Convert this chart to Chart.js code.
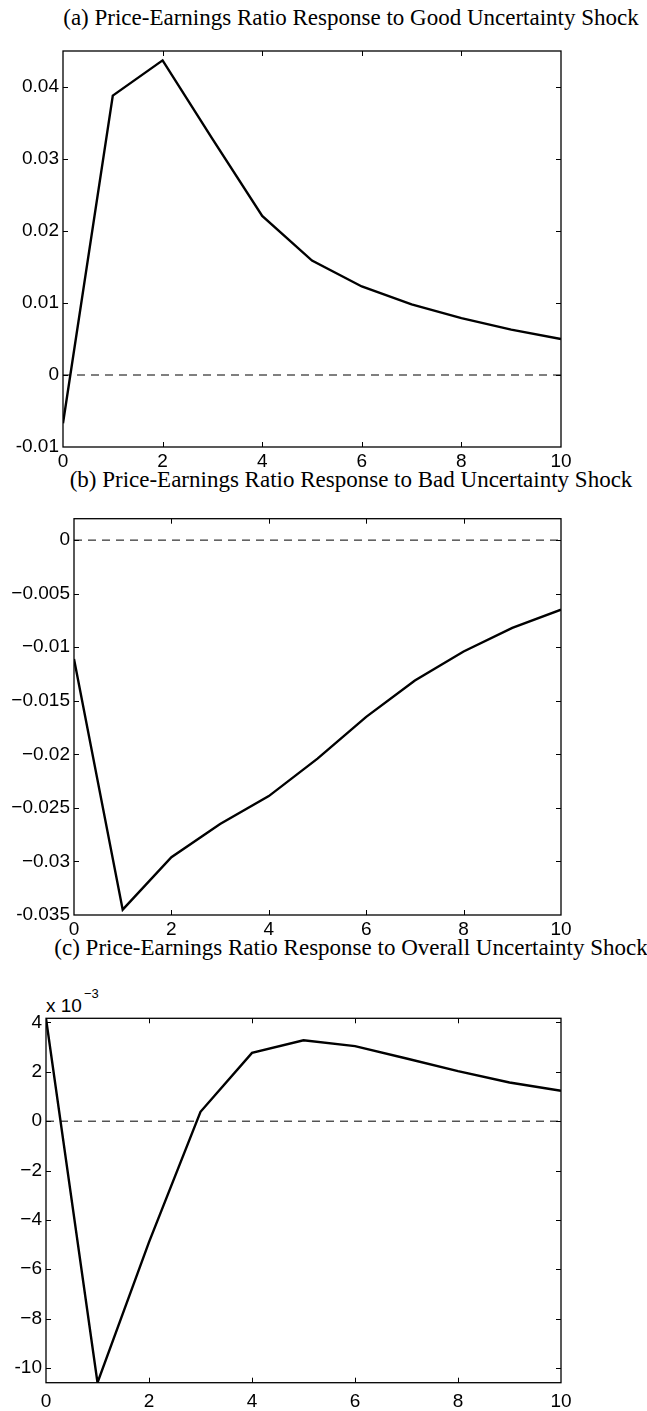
<!DOCTYPE html>
<html>
<head>
<meta charset="utf-8">
<script src="https://cdn.jsdelivr.net/npm/chart.js@4.4.0/dist/chart.umd.min.js"></script>
<style>
  html, body { margin: 0; padding: 0; background: #fff; }
  #wrap { position: relative; width: 647px; height: 1411px; overflow: hidden; background: #fff; }
  canvas { position: absolute; left: 0; }
  .ttl { position: absolute; left: 0; width: 702px; text-align: center; font-family: "Liberation Serif", "Times New Roman", serif; font-size: 23px; line-height: 26px; color: #000; white-space: nowrap; }
  .mult { position: absolute; font-family: "Liberation Sans", Arial, sans-serif; color: #000; white-space: nowrap; }
</style>
</head>
<body>
<div id="wrap">
  <div class="ttl" style="top:5px">(a) Price-Earnings Ratio Response to Good Uncertainty Shock</div>
  <div class="ttl" style="top:467px">(b) Price-Earnings Ratio Response to Bad Uncertainty Shock</div>
  <div class="ttl" style="top:935px">(c) Price-Earnings Ratio Response to Overall Uncertainty Shock</div>
  <div class="mult" style="left:46px; top:996px; font-size:19px; line-height:19px">x 10</div>
  <div class="mult" style="left:84px; top:987px; font-size:13px; line-height:13px">−3</div>
  <canvas id="cA" width="647" height="472" style="top:0px"></canvas>
  <canvas id="cB" width="647" height="470" style="top:470px"></canvas>
  <canvas id="cC" width="647" height="471" style="top:940px"></canvas>
</div>
<script>
// ---- data ----
const periods = [0, 1, 2, 3, 4, 5, 6, 7, 8, 9, 10];
const goodShockPE = [-0.0067, 0.0388, 0.0437, 0.0328, 0.0221, 0.0159, 0.0123, 0.0098, 0.0079, 0.0063, 0.0050];
const badShockPE = [-0.0111, -0.0345, -0.0296, -0.0265, -0.0239, -0.0204, -0.0165, -0.0131, -0.0104, -0.0082, -0.0065];
const overallShockPE = [0.00417, -0.0106, -0.0049, 0.00038, 0.00277, 0.00328, 0.00304, 0.00254, 0.00203, 0.00157, 0.00123];
const zeroLevel = 0;

const xTicks = [0, 2, 4, 6, 8, 10];
const xTickLabels = ['0', '2', '4', '6', '8', '10'];

const yTicksA = [-0.01, 0, 0.01, 0.02, 0.03, 0.04];
const yTickLabelsA = ['-0.01', '0', '0.01', '0.02', '0.03', '0.04'];
const yRangeA = [-0.01, 0.045];

const yTicksB = [-0.035, -0.03, -0.025, -0.02, -0.015, -0.01, -0.005, 0];
const yTickLabelsB = ['-0.035', '−0.03', '−0.025', '−0.02', '−0.015', '−0.01', '−0.005', '0'];
const yRangeB = [-0.035, 0.002];

const yTicksC = [-0.010, -0.008, -0.006, -0.004, -0.002, 0, 0.002, 0.004];
const yTickLabelsC = ['-10', '−8', '−6', '−4', '−2', '0', '2', '4'];
const yRangeC = [-0.0106, 0.00417];

// ---- helpers ----
const tickFont = { family: '"Liberation Sans", Arial, sans-serif', size: 19 };

const framePlugin = {
  id: 'matlabFrame',
  afterDatasetsDraw(chart) {
    const { ctx, chartArea: a, scales } = chart;
    const x = scales.x, y = scales.y;
    ctx.save();
    ctx.strokeStyle = '#000';
    ctx.lineWidth = 1;
    const L = 5;
    ctx.beginPath();
    x.ticks.forEach(t => {
      const p = Math.round(x.getPixelForValue(t.value)) + 0.5;
      if (p <= a.left + 1 || p >= a.right - 1) return;
      ctx.moveTo(p, a.bottom); ctx.lineTo(p, a.bottom - L);
      ctx.moveTo(p, a.top); ctx.lineTo(p, a.top + L);
    });
    y.ticks.forEach(t => {
      const p = Math.round(y.getPixelForValue(t.value)) + 0.5;
      if (p <= a.top + 1 || p >= a.bottom - 1) return;
      ctx.moveTo(a.left, p); ctx.lineTo(a.left + L, p);
      ctx.moveTo(a.right, p); ctx.lineTo(a.right - L, p);
    });
    ctx.stroke();
    ctx.lineWidth = 1.3;
    ctx.strokeRect(a.left, a.top, a.right - a.left, a.bottom - a.top);
    ctx.restore();
  }
};

function makeChart(id, series, yRange, yTicks, yTickLabels, yAxisWidth, padTop, xAxisHeight, xPad) {
  const pts = periods.map((p, i) => ({ x: p, y: series[i] }));
  const zero = [{ x: periods[0], y: zeroLevel }, { x: periods[periods.length - 1], y: zeroLevel }];
  return new Chart(document.getElementById(id), {
    type: 'line',
    data: {
      datasets: [
        { data: zero, borderColor: '#000', borderWidth: 1, borderDash: [8, 6], pointRadius: 0, fill: false, tension: 0, order: 2 },
        { data: pts, borderColor: '#000', borderWidth: 2.4, pointRadius: 0, fill: false, tension: 0, order: 1, borderJoinStyle: 'miter' }
      ]
    },
    options: {
      responsive: false,
      animation: false,
      devicePixelRatio: 1,
      layout: { padding: { top: padTop, right: 86, left: 0, bottom: 0 } },
      plugins: { legend: { display: false }, tooltip: { enabled: false }, title: { display: false } },
      scales: {
        x: {
          type: 'linear', min: 0, max: 10,
          grid: { display: false, drawTicks: false },
          border: { display: false },
          afterBuildTicks: s => { s.ticks = xTicks.map(v => ({ value: v })); },
          afterFit: s => { s.height = xAxisHeight; },
          ticks: { font: tickFont, color: '#000', padding: xPad, maxRotation: 0, autoSkip: false,
                   callback: (v, i) => xTickLabels[i] }
        },
        y: {
          type: 'linear', min: yRange[0], max: yRange[1],
          grid: { display: false, drawTicks: false },
          border: { display: false },
          afterBuildTicks: s => { s.ticks = yTicks.map(v => ({ value: v })); },
          afterFit: s => { s.width = yAxisWidth; },
          ticks: { font: tickFont, color: '#000', padding: 4, autoSkip: false,
                   callback: (v, i) => yTickLabels[i] }
        }
      }
    },
    plugins: [framePlugin]
  });
}

makeChart('cA', goodShockPE, yRangeA, yTicksA, yTickLabelsA, 63, 51, 25, 3);
makeChart('cB', badShockPE, yRangeB, yTicksB, yTickLabelsB, 74, 48.7, 25, 3);
makeChart('cC', overallShockPE, yRangeC, yTicksC, yTickLabelsC, 46, 78.3, 28.3, 8);
</script>
</body>
</html>
